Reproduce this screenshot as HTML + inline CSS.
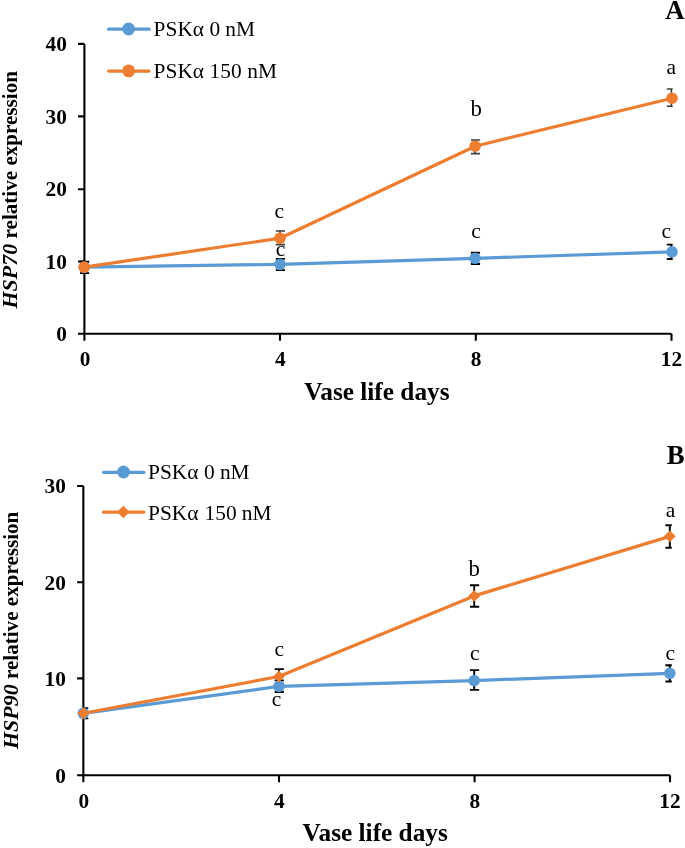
<!DOCTYPE html>
<html><head><meta charset="utf-8">
<style>
html,body{margin:0;padding:0;background:#fff;}
body{width:685px;height:848px;overflow:hidden;}
svg{display:block;will-change:transform;}
text{font-family:"Liberation Serif",serif;fill:#000;}
.tk{font-weight:bold;font-size:21.3px;}
.lg{font-size:21.4px;}
.lb{font-size:21.5px;}
.xt{font-weight:bold;font-size:25.3px;}
.yt{font-weight:bold;font-size:21.1px;}
.pl{font-weight:bold;font-size:26.8px;}
.ax{stroke:#000;stroke-width:2.1;fill:none;}
</style></head>
<body>
<svg width="685" height="848" viewBox="0 0 685 848">
<defs>
<clipPath id="ca"><rect x="0" y="0" width="672.7" height="848"/></clipPath>
<clipPath id="cb"><rect x="83.3" y="0" width="588.5" height="848"/></clipPath>
</defs>
<text class="pl" x="665.3" y="18.7">A</text>
<path d="M108.6 29.2H149.2" stroke="#5B9BD5" stroke-width="3.2" stroke-linecap="round"/>
<circle cx="128.6" cy="29" r="6.4" fill="#5B9BD5"/>
<text class="lg" y="36"><tspan x="153.60">PSKα</tspan><tspan x="209.40">0</tspan><tspan x="225.30">nM</tspan></text>
<path d="M108.6 71.1H149" stroke="#ED7D31" stroke-width="3.2" stroke-linecap="round"/>
<circle cx="128.7" cy="70.9" r="6.4" fill="#ED7D31"/>
<text class="lg" y="78"><tspan x="153.60">PSKα</tspan><tspan x="209.60">150</tspan><tspan x="247.20">nM</tspan></text>
<path d="M84.4 43.9V333.7H671.5" class="ax"/>
<path d="M78 333.70H84.4M78 261.45H84.4M78 189.20H84.4M78 116.40H84.4M78 43.90H84.4" class="ax"/>
<path d="M84.4 333.7V340.7M280 333.7V340.7M475.8 333.7V340.7M671.5 333.7V340.7" class="ax"/>
<text class="tk" x="66.8" y="340.95" text-anchor="end">0</text>
<text class="tk" x="66.8" y="268.70" text-anchor="end">10</text>
<text class="tk" x="66.8" y="196.45" text-anchor="end">20</text>
<text class="tk" x="66.8" y="123.65" text-anchor="end">30</text>
<text class="tk" x="66.8" y="51.15" text-anchor="end">40</text>
<text class="tk" x="85" y="366.3" text-anchor="middle">0</text>
<text class="tk" x="280.3" y="366.3" text-anchor="middle">4</text>
<text class="tk" x="476" y="366.3" text-anchor="middle">8</text>
<text class="tk" x="671.5" y="366.3" text-anchor="middle">12</text>
<text class="xt" x="304.3" y="400">Vase life days</text>
<text class="yt" transform="translate(17.3,308.5) rotate(-90)"><tspan style="font-style:italic;font-size:22px">HSP70</tspan> relative expression</text>
<g clip-path="url(#ca)">
<path d="M84.20 261.70V273.10M80.00 261.70H89.20M80.00 273.10H89.20" stroke="#000" stroke-width="1.9" fill="none"/>
<path d="M280.00 258.90V270.10M275.80 258.90H285.00M275.80 270.10H285.00" stroke="#000" stroke-width="1.9" fill="none"/>
<path d="M475.10 252.75V263.95M470.90 252.75H480.10M470.90 263.95H480.10" stroke="#000" stroke-width="1.9" fill="none"/>
<path d="M671.40 244.65V259.00M666.80 244.65H676.00M666.80 259.00H676.00" stroke="#000" stroke-width="1.9" fill="none"/>
<path d="M280.00 231.00V244.55M275.80 231.00H285.00M275.80 244.55H285.00" stroke="#3f3f3f" stroke-width="1.7" fill="none"/>
<path d="M475.10 140.00V153.65M470.90 140.00H480.10M470.90 153.65H480.10" stroke="#3f3f3f" stroke-width="1.7" fill="none"/>
<path d="M671.40 89.00V106.25M666.80 89.00H676.00M666.80 106.25H676.00" stroke="#3f3f3f" stroke-width="1.7" fill="none"/>
</g>
<path d="M84.20 267.20L280.00 264.35L475.10 258.30L672.00 251.90" stroke="#5B9BD5" stroke-width="3.2" fill="none" stroke-linejoin="round"/>
<circle cx="84.20" cy="267.20" r="5.8" fill="#5B9BD5"/>
<circle cx="280.00" cy="264.35" r="5.8" fill="#5B9BD5"/>
<circle cx="475.10" cy="258.30" r="5.8" fill="#5B9BD5"/>
<circle cx="672.00" cy="251.90" r="5.8" fill="#5B9BD5"/>
<path d="M84.20 267.15L280.00 238.20L475.10 146.20L672.00 98.20" stroke="#ED7D31" stroke-width="3.2" fill="none" stroke-linejoin="round"/>
<circle cx="84.20" cy="267.15" r="5.8" fill="#ED7D31"/>
<circle cx="280.00" cy="238.20" r="5.8" fill="#ED7D31"/>
<circle cx="475.10" cy="146.20" r="5.8" fill="#ED7D31"/>
<circle cx="672.00" cy="98.20" r="5.8" fill="#ED7D31"/>
<text class="lb" x="279.3" y="218" text-anchor="middle">c</text>
<text class="lb" x="280.5" y="255.7" text-anchor="middle">c</text>
<text class="lb" x="476.1" y="115.5" text-anchor="middle" style="font-size:22.8px">b</text>
<text class="lb" x="475.9" y="238.1" text-anchor="middle">c</text>
<text class="lb" x="671.3" y="73.9" text-anchor="middle">a</text>
<text class="lb" x="666.2" y="238" text-anchor="middle">c</text>
<text class="pl" x="666.7" y="463.6">B</text>
<path d="M103.6 472.3H143.9" stroke="#5B9BD5" stroke-width="3.2" stroke-linecap="round"/>
<circle cx="123.5" cy="472" r="6.4" fill="#5B9BD5"/>
<text class="lg" y="478.9"><tspan x="148.00">PSKα</tspan><tspan x="203.90">0</tspan><tspan x="219.90">nM</tspan></text>
<path d="M103.6 512.2H143.8" stroke="#ED7D31" stroke-width="3.2" stroke-linecap="round"/>
<path d="M123.30 505.70L129.60 512.00L123.30 518.30L117.00 512.00Z" fill="#ED7D31"/>
<text class="lg" y="519.8"><tspan x="148.00">PSKα</tspan><tspan x="204.60">150</tspan><tspan x="241.80">nM</tspan></text>
<path d="M83.35 486V775.3H670" class="ax"/>
<path d="M77.1 775.30H83.35M77.1 678.40H83.35M77.1 582.20H83.35M77.1 486.00H83.35" class="ax"/>
<path d="M83.35 775.3V782.3M279 775.3V782.3M474.6 775.3V782.3M670 775.3V782.3" class="ax"/>
<text class="tk" x="65.8" y="782.60" text-anchor="end">0</text>
<text class="tk" x="65.8" y="685.70" text-anchor="end">10</text>
<text class="tk" x="65.8" y="589.50" text-anchor="end">20</text>
<text class="tk" x="65.8" y="493.30" text-anchor="end">30</text>
<text class="tk" x="83.9" y="807.5" text-anchor="middle">0</text>
<text class="tk" x="279.3" y="807.5" text-anchor="middle">4</text>
<text class="tk" x="474.8" y="807.5" text-anchor="middle">8</text>
<text class="tk" x="670" y="807.5" text-anchor="middle">12</text>
<text class="xt" x="302.6" y="840.9">Vase life days</text>
<text class="yt" transform="translate(17.8,749.1) rotate(-90)"><tspan style="font-style:italic;font-size:22px">HSP90</tspan> relative expression</text>
<g clip-path="url(#cb)">
<path d="M83.30 708.10V718.40M79.10 708.10H88.30M79.10 718.40H88.30" stroke="#000" stroke-width="1.9" fill="none"/>
<path d="M278.90 680.40V692.00M274.70 680.40H283.90M274.70 692.00H283.90" stroke="#000" stroke-width="1.9" fill="none"/>
<path d="M474.20 670.10V689.85M470.00 670.10H479.20M470.00 689.85H479.20" stroke="#000" stroke-width="1.9" fill="none"/>
<path d="M669.80 665.20V681.45M665.40 665.20H674.60M665.40 681.45H674.60" stroke="#000" stroke-width="1.9" fill="none"/>
<path d="M278.90 669.10V683.80M274.70 669.10H283.90M274.70 683.80H283.90" stroke="#000" stroke-width="1.9" fill="none"/>
<path d="M474.20 585.30V606.80M470.00 585.30H479.20M470.00 606.80H479.20" stroke="#000" stroke-width="1.9" fill="none"/>
<path d="M669.80 525.20V547.75M665.40 525.20H674.60M665.40 547.75H674.60" stroke="#000" stroke-width="1.9" fill="none"/>
</g>
<path d="M83.30 713.30L278.90 686.40L474.20 680.55L669.80 673.30" stroke="#5B9BD5" stroke-width="3.2" fill="none" stroke-linejoin="round"/>
<circle cx="83.30" cy="713.30" r="5.8" fill="#5B9BD5"/>
<circle cx="278.90" cy="686.40" r="5.8" fill="#5B9BD5"/>
<circle cx="474.20" cy="680.55" r="5.8" fill="#5B9BD5"/>
<circle cx="669.80" cy="673.30" r="5.8" fill="#5B9BD5"/>
<path d="M83.30 713.30L278.90 676.45L474.20 595.90L669.80 536.35" stroke="#ED7D31" stroke-width="3.2" fill="none" stroke-linejoin="round"/>
<path d="M83.30 707.35L89.25 713.30L83.30 719.25L77.35 713.30Z" fill="#ED7D31"/>
<path d="M278.90 670.50L284.85 676.45L278.90 682.40L272.95 676.45Z" fill="#ED7D31"/>
<path d="M474.20 589.95L480.15 595.90L474.20 601.85L468.25 595.90Z" fill="#ED7D31"/>
<path d="M669.80 530.40L675.75 536.35L669.80 542.30L663.85 536.35Z" fill="#ED7D31"/>
<text class="lb" x="279.3" y="656" text-anchor="middle">c</text>
<text class="lb" x="276.5" y="706" text-anchor="middle">c</text>
<text class="lb" x="474.1" y="575.6" text-anchor="middle" style="font-size:22.8px">b</text>
<text class="lb" x="474.8" y="659.8" text-anchor="middle">c</text>
<text class="lb" x="670.6" y="517" text-anchor="middle">a</text>
<text class="lb" x="670.2" y="659.8" text-anchor="middle">c</text>
</svg>
</body></html>
